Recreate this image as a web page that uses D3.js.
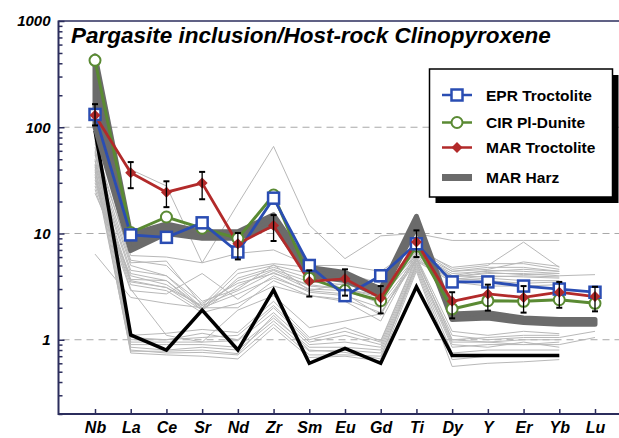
<!DOCTYPE html>
<html><head><meta charset="utf-8">
<script src="https://cdn.jsdelivr.net/npm/d3@7"></script>
<style>
html,body{margin:0;padding:0;background:#fff;}
svg{display:block;}
text{font-family:"Liberation Sans",Arial,Helvetica,sans-serif;}
</style></head>
<body><svg id="chart" width="619" height="438"></svg>
<script>
const cats = ["Nb","La","Ce","Sr","Nd","Zr","Sm","Eu","Gd","Ti","Dy","Y","Er","Yb","Lu"];
const yTickLabels = [1000, 100, 10, 1];
const titleText = "Pargasite inclusion/Host-rock Clinopyroxene";
const seriesNames = ["EPR Troctolite", "CIR Pl-Dunite", "MAR Troctolite", "MAR Harz"];

const eprTroctolite = [132, 9.7, 9.2, 12.6, 6.7, 21.5, 5.0, 2.6, 4.0, 8.0, 3.5, 3.5, 3.2, 3.0, 2.8];
const cirPlDunite   = [426, 10.2, 14.3, 11.2, 9.0, 23, 3.8, 2.9, 2.33, 7.6, 1.95, 2.33, 2.3, 2.38, 2.2];
const marTroctolite = [130, 37.4, 24.5, 29.8, 8.0, 11.9, 3.55, 3.74, 2.47, 8.3, 2.3, 2.7, 2.5, 2.8, 2.55];
const marTrocErrHi  = [165, 47, 31, 38, 10.1, 14.9, 4.5, 4.6, 3.2, 10.7, 2.8, 3.3, 3.2, 3.5, 3.15];
const marTrocErrLo  = [104, 26.7, 17.7, 21, 5.7, 8.5, 2.55, 2.6, 1.77, 6.0, 1.59, 1.88, 1.8, 2.0, 1.85];
const marHarzLo     = [100, 6.9, 10.0, 9.0, 9.0, 12.0, 4.0, 3.6, 2.6, 11.5, 1.55, 1.6, 1.45, 1.4, 1.4];
const marHarzHi     = [470, 9.8, 12.3, 10.4, 10.4, 15, 4.8, 4.3, 3.0, 14.5, 1.75, 1.8, 1.6, 1.55, 1.55];
const blackRef      = [93, 1.11, 0.8, 1.9, 0.8, 2.94, 0.6, 0.83, 0.6, 3.16, 0.71, 0.71, 0.71, 0.71, null];

const grayLines = [
  [110, 40, 28, 5.3, 19, 66, 12, 5.8, 9.5, 10, 8.6, 8.6, 8.6, 8.6, null],
  [60, 6.2, 6.0, 5.3, 6.5, 7.0, 5.0, 5.0, 4.4, 7.5, 4.6, 5.0, 8.3, 4.8, null],
  [55, 5.3, 5.5, 2.1, 4.6, 5.2, 4.8, 4.2, 3.4, 7.0, 4.8, 5.2, 5.2, 4.6, null],
  [48, 5.0, 4.0, 2.0, 4.2, 5.0, 4.2, 4.0, 3.2, 6.5, 4.4, 4.8, 4.8, 4.4, null],
  [42, 4.2, 3.6, 1.9, 3.8, 4.8, 3.8, 3.5, 3.0, 6.8, 4.0, 4.5, 4.4, 4.2, null],
  [38, 3.7, 3.6, 2.0, 3.6, 4.6, 3.5, 3.3, 2.8, 6.2, 3.9, 4.2, 4.2, 4.0, 4.1],
  [34, 3.6, 3.1, 1.9, 3.2, 4.5, 3.2, 3.0, 2.5, 6.0, 3.7, 4.0, 3.9, 3.8, null],
  [30, 3.5, 3.1, 2.1, 2.9, 4.3, 3.0, 2.9, 2.2, 5.8, 3.6, 3.8, 3.6, 3.6, null],
  [26, 2.9, 2.7, 4.2, 2.4, 4.0, 2.8, 2.6, 2.0, 5.6, 3.8, 3.6, 3.4, 3.5, null],
  [6.4, 2.5, 2.2, 2.0, 2.0, 3.6, 2.6, 2.4, 1.8, 5.5, 3.5, 3.2, 3.2, 3.3, null],
  [45, 4.5, 4.0, 2.2, 3.4, 4.2, 3.3, 3.0, 2.6, 6.5, 4.2, 4.4, 4.6, 4.4, null],
  [70, 5.6, 5.0, 2.3, 3.0, 5.1, 2.9, 2.7, 1.7, 6.6, 4.0, 3.9, 4.0, 3.9, null],
  [85, 1.1, 1.15, 1.25, 1.17, 2.3, 1.05, 1.3, 0.98, 6.0, 1.2, 1.1, 1.2, 1.14, null],
  [75, 1.0, 1.0, 1.15, 1.0, 2.0, 0.95, 1.1, 0.9, 5.5, 1.1, 1.0, 1.05, 1.05, 1.2],
  [65, 0.95, 0.95, 0.95, 0.98, 1.8, 0.9, 0.95, 0.85, 5.2, 0.95, 0.95, 1.0, 1.0, null],
  [58, 0.9, 0.9, 0.9, 0.85, 1.6, 0.85, 0.85, 0.8, 5.0, 0.85, 0.9, 0.9, 0.9, 1.05],
  [50, 0.85, 0.8, 0.85, 0.8, 1.5, 0.78, 0.8, 0.75, 4.8, 0.75, 0.8, 0.8, 0.8, null],
  [44, 0.8, 0.75, 0.76, 0.72, 1.4, 0.72, 0.72, 0.7, 4.6, 0.65, 0.7, 0.7, 0.7, null],
  [40, 0.75, 0.72, 0.7, 0.66, 1.3, 0.68, 0.7, 0.63, 4.4, 0.56, 0.6, 0.62, 0.65, null],
  [80, 1.05, 1.0, 1.05, 1.1, 2.1, 1.0, 1.2, 0.95, 5.8, 1.0, 1.05, 1.1, 1.1, null],
  [36, 0.78, 0.78, 0.8, 0.74, 1.7, 0.8, 0.76, 0.66, 5.3, 0.9, 0.85, 0.95, 0.85, null],
  [32, 3.0, 1.1, 0.95, 1.9, 2.6, 1.3, 1.5, 1.75, 5.9, 1.0, 0.95, 0.9, 0.95, null],
  [28, 3.3, 2.9, 1.8, 2.2, 3.2, 2.6, 2.3, 1.5, 6.3, 3.9, 4.3, 4.1, 4.2, null],
  [24, 4.0, 3.3, 2.0, 2.7, 3.8, 2.9, 3.4, 2.9, 7.2, 4.4, 4.6, 5.4, 4.9, null]
];

const pLeft = 58.5, pTop = 21, pBottom = 414, pRight = 619;
const svg = d3.select("#chart");
const x = d3.scalePoint().domain(cats).range([95, 595]);
const y = d3.scaleLog().domain([0.2, 1000]).range([pBottom, pTop]);
const navy = "#2b2d5c";
const cBlue = "#2a4db3", cGreen = "#5a8a33", cRed = "#b22a2a", cHarz = "#6b6b6b", cGray = "#b8b8b8";
const isMajor = d => Math.abs(Math.log10(d) - Math.round(Math.log10(d))) < 1e-9;

// gridlines
svg.append("g").selectAll("line").data([1, 10, 100]).join("line")
  .attr("x1", pLeft + 4).attr("x2", pRight).attr("y1", d => y(d)).attr("y2", d => y(d))
  .attr("stroke", "#a8a8a8").attr("stroke-width", 1).attr("stroke-dasharray", "7,5");

// Y axis
const minorVals = [];
[0.1, 1, 10, 100].forEach(dec => { for (let k = 1; k <= 9; k++) { const v = +(dec * k).toPrecision(6); if (v >= 0.2 && v <= 1000) minorVals.push(v); } });
minorVals.push(1000);
const yAxis = d3.axisLeft(y).tickValues(minorVals).tickSize(-6).tickPadding(8)
  .tickFormat(d => (isMajor(d) && yTickLabels.includes(Math.round(d))) ? d3.format("d")(d) : "");
const gy = svg.append("g").attr("transform", `translate(${pLeft},0)`).call(yAxis);
gy.select(".domain").remove();
gy.selectAll(".tick line").attr("stroke", navy).attr("stroke-width", 1.5)
  .attr("x2", d => (isMajor(d) ? 6 : 4));
gy.selectAll(".tick text").attr("font-size", 15).attr("font-weight", "bold").attr("font-style", "italic").attr("fill", "#000")
  .attr("font-family", '"Liberation Sans",Arial,Helvetica,sans-serif');

// X axis
const xAxis = d3.axisBottom(x).tickSize(-5).tickPadding(7.5);
const gx = svg.append("g").attr("transform", `translate(0,${pBottom})`).call(xAxis);
gx.select(".domain").remove();
gx.selectAll(".tick line").attr("stroke", navy).attr("stroke-width", 1.5);
gx.selectAll(".tick text").attr("font-size", 16).attr("font-weight", "bold").attr("font-style", "italic").attr("fill", "#000")
  .attr("font-family", '"Liberation Sans",Arial,Helvetica,sans-serif');

// frame
svg.append("line").attr("x1", pLeft).attr("x2", pLeft).attr("y1", pTop - 0.5).attr("y2", pBottom + 1).attr("stroke", navy).attr("stroke-width", 2);
svg.append("line").attr("x1", pLeft).attr("x2", pRight).attr("y1", pTop).attr("y2", pTop).attr("stroke", navy).attr("stroke-width", 1.5);
svg.append("line").attr("x1", pLeft).attr("x2", pRight).attr("y1", pBottom).attr("y2", pBottom).attr("stroke", navy).attr("stroke-width", 2);

const line = d3.line().defined(d => d != null).x((d, i) => x(cats[i])).y(d => y(d));

// gray lines
svg.append("g").selectAll("path").data(grayLines).join("path")
  .attr("d", d => line(d)).attr("fill", "none").attr("stroke", cGray).attr("stroke-width", 1);

// black reference
svg.append("path").attr("d", line(blackRef)).attr("fill", "none").attr("stroke", "#000").attr("stroke-width", 3.5);

// MAR Harz band
const harz = cats.map((c, i) => ({c, lo: marHarzLo[i], hi: marHarzHi[i]}));
const area = d3.area().x(d => x(d.c)).y0(d => y(d.lo)).y1(d => y(d.hi));
svg.append("path").attr("d", area(harz)).attr("fill", cHarz).attr("stroke", cHarz).attr("stroke-width", 5).attr("stroke-linejoin", "round");

// green
svg.append("path").attr("d", line(cirPlDunite)).attr("fill", "none").attr("stroke", cGreen).attr("stroke-width", 3);
// blue
svg.append("path").attr("d", line(eprTroctolite)).attr("fill", "none").attr("stroke", cBlue).attr("stroke-width", 2.8);
// red
svg.append("path").attr("d", line(marTroctolite)).attr("fill", "none").attr("stroke", cRed).attr("stroke-width", 2.8);

// green circles
svg.append("g").selectAll("circle").data(cirPlDunite).join("circle")
  .attr("cx", (d, i) => x(cats[i])).attr("cy", d => y(d)).attr("r", 5.5)
  .attr("fill", "#fff").attr("stroke", cGreen).attr("stroke-width", 2);
// blue squares
svg.append("g").selectAll("rect").data(eprTroctolite).join("rect")
  .attr("x", (d, i) => x(cats[i]) - 5.5).attr("y", d => y(d) - 5.5).attr("width", 11).attr("height", 11)
  .attr("fill", "#fff").attr("stroke", cBlue).attr("stroke-width", 2.5);
// red diamonds
const diamond = "M0,-5.5L5.5,0L0,5.5L-5.5,0Z";
svg.append("g").selectAll("path").data(marTroctolite).join("path")
  .attr("d", diamond).attr("transform", (d, i) => `translate(${x(cats[i])},${y(d)})`).attr("fill", cRed);

// error bars
const eb = svg.append("g").attr("stroke", "#000");
cats.forEach((c, i) => {
  const cx = x(c), y1 = y(marTrocErrHi[i]), y2 = y(marTrocErrLo[i]);
  eb.append("line").attr("x1", cx).attr("x2", cx).attr("y1", y1).attr("y2", y2).attr("stroke-width", 1.3);
  eb.append("line").attr("x1", cx - 3).attr("x2", cx + 3).attr("y1", y1).attr("y2", y1).attr("stroke-width", 2);
  eb.append("line").attr("x1", cx - 3).attr("x2", cx + 3).attr("y1", y2).attr("y2", y2).attr("stroke-width", 2);
});

// title
const title = svg.append("text").attr("x", 71).attr("y", 43).attr("font-size", 20)
  .attr("font-weight", "bold").attr("font-style", "italic").attr("fill", "#000").text(titleText);
const tl = title.node().getComputedTextLength();
if (tl > 0) title.attr("font-size", 20 * 480 / tl);

// legend
const lg = svg.append("g");
lg.append("rect").attr("x", 435.5).attr("y", 75).attr("width", 183).attr("height", 128).attr("fill", "#000");
lg.append("rect").attr("x", 429.5).attr("y", 69).attr("width", 183).attr("height", 128).attr("fill", "#fff").attr("stroke", "#000").attr("stroke-width", 1.5);
const ly = [95, 122.5, 147.5, 177.5];
const lx0 = 442, lx1 = 472, lxm = 457;
lg.append("line").attr("x1", lx0).attr("x2", lx1).attr("y1", ly[0]).attr("y2", ly[0]).attr("stroke", cBlue).attr("stroke-width", 2.5);
lg.append("rect").attr("x", lxm - 5.5).attr("y", ly[0] - 5.5).attr("width", 11).attr("height", 11).attr("fill", "#fff").attr("stroke", cBlue).attr("stroke-width", 2.5);
lg.append("line").attr("x1", lx0).attr("x2", lx1).attr("y1", ly[1]).attr("y2", ly[1]).attr("stroke", cGreen).attr("stroke-width", 2.5);
lg.append("circle").attr("cx", lxm).attr("cy", ly[1]).attr("r", 5.5).attr("fill", "#fff").attr("stroke", cGreen).attr("stroke-width", 2);
lg.append("line").attr("x1", lx0).attr("x2", lx1).attr("y1", ly[2]).attr("y2", ly[2]).attr("stroke", cRed).attr("stroke-width", 2.5);
lg.append("path").attr("d", diamond).attr("transform", `translate(${lxm},${ly[2]})`).attr("fill", cRed);
lg.append("rect").attr("x", lx0).attr("y", ly[3] - 3.5).attr("width", lx1 - lx0).attr("height", 7).attr("fill", cHarz);
lg.selectAll("text.lab").data(seriesNames).join("text").attr("class", "lab")
  .attr("x", 486).attr("y", (d, i) => ly[i]).attr("dy", "0.36em")
  .attr("font-size", 15.5).attr("font-weight", "bold").attr("fill", "#000").text(d => d);
</script></body></html>
